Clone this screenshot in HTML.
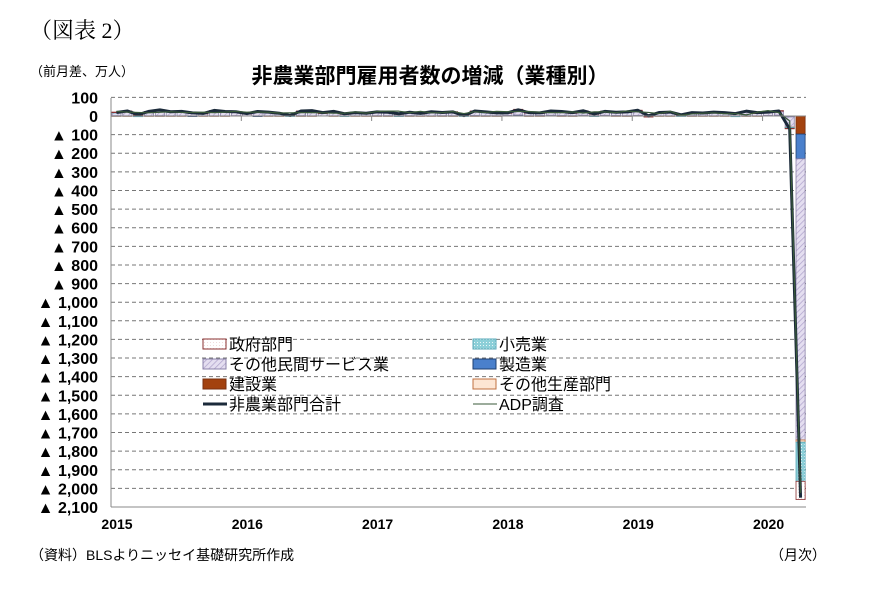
<!DOCTYPE html>
<html><head><meta charset="utf-8">
<style>
body{margin:0;background:#fff;}
svg text{font-family:"Liberation Sans","Noto Sans CJK JP",sans-serif;}
</style></head>
<body>
<svg id="c" width="869" height="595" viewBox="0 0 869 595" xmlns="http://www.w3.org/2000/svg">
<defs>
<pattern id="pSvc" width="4" height="4" patternUnits="userSpaceOnUse" patternTransform="rotate(45)"><rect width="4" height="4" fill="#e4def0"/><line x1="0" y1="0" x2="0" y2="4" stroke="#b0a4cc" stroke-width="1.5"/></pattern>
<pattern id="pRet" width="3" height="3" patternUnits="userSpaceOnUse"><rect width="3" height="3" fill="#8ccfd8"/><rect width="1" height="1" fill="#e8f6f8"/></pattern>
<pattern id="pGov" width="3" height="3" patternUnits="userSpaceOnUse"><rect width="3" height="3" fill="#fff"/><rect width="1" height="1" fill="#f0dcdc"/></pattern>
</defs>
<text x="30" y="38" font-size="22" style="font-family:'Liberation Serif','Noto Serif CJK SC',serif">（図表 2）</text>
<text x="30" y="76" font-size="13">（前月差、万人）</text>
<text x="430" y="83" font-size="21" font-weight="bold" text-anchor="middle">非農業部門雇用者数の増減（業種別）</text>
<text x="30" y="560" font-size="14">（資料）BLSよりニッセイ基礎研究所作成</text>
<text x="770" y="560" font-size="14">（月次）</text>
<g id="grid"></g><g id="bars"></g><g id="lines"></g><g id="axes"></g>
<g id="legend"></g>
</svg>
<script>
const yTicks=[100,0,-100,-200,-300,-400,-500,-600,-700,-800,-900,-1000,-1100,-1200,-1300,-1400,-1500,-1600,-1700,-1800,-1900,-2000,-2100];
const xYears=["2015","2016","2017","2018","2019","2020"];
const total=[19,27,7,25,33,23,25,17,14,30,24,23, 13,24,21,15,3,27,29,18,25,12,18,15, 22,20,12,20,14,23,19,22,2,27,22,17, 17,33,18,17,27,24,18,28,11,25,20,22, 31,1,19,21,6,18,16,21,18,13,26,18, 21,27,-70,-2050];
const adp=[25,21,19,17,20,23,19,19,20,18,21,25, 20,21,20,16,17,18,18,17,15,15,22,15, 24,26,26,18,25,17,18,24,13,23,19,25, 23,24,24,20,18,18,22,16,22,22,18,27, 22,19,13,25,4,11,15,17,12,13,6,20, 29,18,-27,-2024];
const services=[16,21,6,20,25,19,19,14,12,23,19,19, 11,20,18,13,4,22,24,15,20,10,15,13, 18,16,9,16,11,19,16,18,3,21,16,13, 13,25,15,13,20,18,14,21,9,19,15,17, 25,3,15,17,6,14,13,16,14,12,21,14, 16,21,-55,-1510];
const government=[2,3,1,2,4,2,2,1,1,3,2,1, 2,2,1,1,1,2,3,1,2,1,1,1, 1,2,1,1,1,2,1,2,1,2,2,1, 1,2,1,1,2,2,1,2,1,2,1,1, 2,-1,1,1,1,2,1,2,1,1,1,1, 2,3,-1,-98];
const retail=[1,2,-1,1,2,1,2,1,0,3,2,1, 0,2,1,0,-2,1,1,0,2,-1,1,0, 2,1,-1,1,0,1,0,1,-1,1,2,0, 0,2,0,0,1,1,0,1,-1,1,1,1, 1,-2,0,0,-1,0,0,0,0,-1,1,0, 0,0,-5,-210];
const manufacturing=[1,0,0,0,1,0,0,-1,0,0,0,0, 0,-1,0,0,0,1,0,0,0,0,0,0, 1,1,1,1,0,0,1,1,0,2,1,1, 1,3,1,2,2,2,1,2,1,2,2,1, 1,0,0,0,0,1,0,0,0,-1,1,0, 0,1,-2,-133];
const construction=[1,1,-1,1,1,1,1,1,1,1,1,2, 0,1,1,1,0,1,1,0,1,1,1,1, 1,1,1,1,1,1,1,1,0,1,1,1, 2,3,1,1,2,1,1,2,1,2,1,1, 2,-1,1,1,0,1,1,1,1,1,1,1, 3,4,-3,-97];
const otherProd=[0,0,0,0,0,0,0,0,0,0,0,0, 0,0,0,0,0,0,0,0,0,0,0,0, 0,0,0,0,0,0,0,0,0,0,0,0, 0,1,0,0,0,0,0,0,0,0,0,0, 0,0,0,0,0,0,0,0,0,0,0,0, 0,0,-1,-12];

const NS="http://www.w3.org/2000/svg";
const L=111,R=806,T=98,B=507;
const yS=v=>116-v*(B-116)/2100;
const n=total.length, bw=(R-L)/n;
const xS=i=>L+(i+0.5)*bw;
function mk(tag,attrs,parent){const e=document.createElementNS(NS,tag);for(const k in attrs)e.setAttribute(k,attrs[k]);document.getElementById(parent).appendChild(e);return e;}
function fmt(v){if(v>=0)return String(v);return "▲ "+Math.abs(v).toLocaleString("en-US");}
yTicks.forEach(v=>{
  if(v!==0&&v!==-2100){const g=mk("line",{x1:L,x2:R,y1:yS(v),y2:yS(v),stroke:"#777","stroke-dasharray":"4,3","stroke-width":1},"grid");
  
  }
  const t=mk("text",{x:98,y:yS(v)+6,"font-size":16,"font-weight":"bold","text-anchor":"end"},"axes");
  t.textContent=fmt(v);
  
  
});
const ax=mk("line",{x1:L,x2:L,y1:T,y2:B,stroke:"#888"},"axes");


const bx=mk("line",{x1:L,x2:R,y1:B,y2:B,stroke:"#888"},"axes");


const zx=mk("line",{x1:L,x2:R,y1:yS(0),y2:yS(0),stroke:"#888"},"axes");


xYears.forEach((y,k)=>{
  const x=L+k*12*bw;
  const tk=mk("line",{x1:x,x2:x,y1:yS(0),y2:yS(0)+5,stroke:"#888"},"axes");
  
  
  const t=mk("text",{x:x+6,y:529,"font-size":14,"font-weight":"bold","text-anchor":"middle"},"axes");
  t.textContent=y;
  
  
});
const series=[
 {d:construction,fill:"#a3420f",stroke:"#7a3010",name:"建設業"},
 {d:manufacturing,fill:"#4a80cc",stroke:"#1f3f70",name:"製造業"},
 {d:services,fill:"url(#pSvc)",stroke:"#8a80a8",name:"その他民間サービス業"},
 {d:otherProd,fill:"#fde6d4",stroke:"#c07040",name:"その他生産部門"},
 {d:retail,fill:"url(#pRet)",stroke:"#5aa8b8",name:"小売業"},
 {d:government,fill:"url(#pGov)",stroke:"#8a3030",name:"政府部門"}
];
for(let i=0;i<n;i++){
  let pos=0,neg=0;
  series.forEach(s=>{
    const v=s.d[i]; if(v===0)return;
    let a,b; if(v>0){a=pos;b=pos+v;pos=b;}else{a=neg;b=neg+v;neg=b;}
    const y1=yS(Math.max(a,b)),y2=yS(Math.min(a,b));
    const r=mk("rect",{x:xS(i)-bw*0.42,y:y1,width:bw*0.84,height:Math.max(0.5,y2-y1),fill:s.fill,stroke:s.stroke,"stroke-width":0.8},"bars");
    
    
  });
}
function line(d,st,w,name){
  const p=mk("polyline",{points:d.map((v,i)=>xS(i)+","+yS(v)).join(" "),fill:"none",stroke:st,"stroke-width":w,"stroke-linejoin":"round"},"lines");
  
  
}
line(total,"#1b2a3a",3,"nonfarm-total-line");
line(adp,"#3a5a3a",1.2,"adp-line");
const leg=[
 {x:203,y:344,t:"政府部門",k:"rect",f:"url(#pGov)",s:"#8a3030"},
 {x:473,y:344,t:"小売業",k:"rect",f:"url(#pRet)",s:"#5aa8b8"},
 {x:203,y:364,t:"その他民間サービス業",k:"rect",f:"url(#pSvc)",s:"#8a80a8"},
 {x:473,y:364,t:"製造業",k:"rect",f:"#4a80cc",s:"#1f3f70"},
 {x:203,y:384,t:"建設業",k:"rect",f:"#a3420f",s:"#7a3010"},
 {x:473,y:384,t:"その他生産部門",k:"rect",f:"#fde6d4",s:"#c07040"},
 {x:203,y:404,t:"非農業部門合計",k:"line",s:"#1b2a3a",w:3},
 {x:473,y:404,t:"ADP調査",k:"line",s:"#3a5a3a",w:1}
];
leg.forEach(e=>{
  let m;
  if(e.k==="rect")m=mk("rect",{x:e.x,y:e.y-5,width:23,height:10,fill:e.f,stroke:e.s},"legend");
  else m=mk("line",{x1:e.x,x2:e.x+24,y1:e.y,y2:e.y,stroke:e.s,"stroke-width":e.w},"legend");
  
  
  const t=mk("text",{x:e.x+26,y:e.y+6,"font-size":16},"legend");
  t.textContent=e.t;
  
  
});
</script>
</body></html>
